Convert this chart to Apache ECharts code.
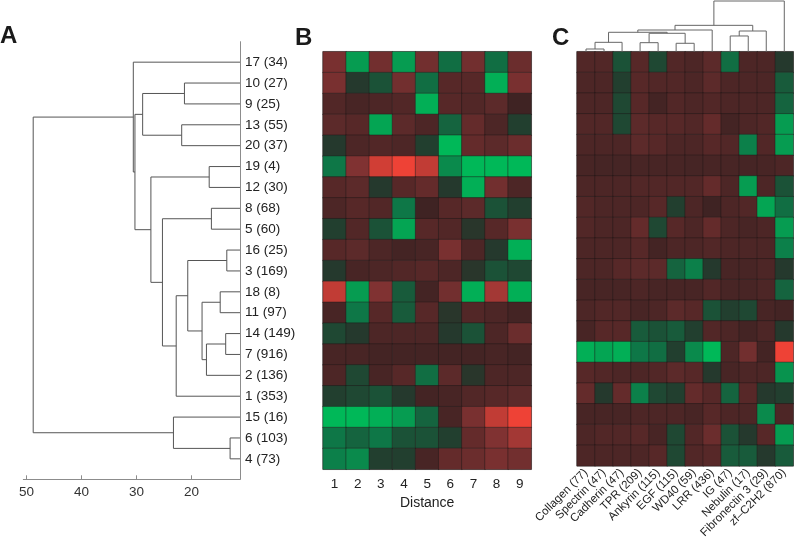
<!DOCTYPE html>
<html>
<head>
<meta charset="utf-8">
<script src="https://cdn.jsdelivr.net/npm/echarts@6/dist/echarts.min.js"></script>
<style>html,body{margin:0;padding:0;background:#fff}#c{width:794px;height:541px}</style>
</head>
<body>
<div id="c"></div>
<script>
// ---- Panel A: cluster dendrogram ----
const clusterLabels = ['17 (34)','10 (27)','9 (25)','13 (55)','20 (37)','19 (4)','12 (30)','8 (68)','5 (60)','16 (25)','3 (169)','18 (8)','11 (97)','14 (149)','7 (916)','2 (136)','1 (353)','15 (16)','6 (103)','4 (73)'];
// linkage: [childA, childB, height]; ids < 20 are leaves (row order), ids >= 20 are earlier merges
const clusterMerges = [
  [1,2,21.3],[3,4,21.8],[20,21,28.9],[5,6,16.8],[7,8,16.4],[9,10,13.6],[11,12,14.8],[13,14,13.8],
  [27,15,17.3],[26,28,18.1],[25,29,20.7],[30,16,22.8],[24,31,25.3],[23,32,27.4],[22,33,30.3],
  [0,34,30.6],[18,19,13.0],[17,36,23.3],[35,37,48.8]
];
const distanceTicks = [20,30,40,50];

// ---- Panel B: distance profile heatmap ----
const distanceLabels = ['1','2','3','4','5','6','7','8','9'];
const distanceValues = [
  [0.55,-0.85,0.5,-0.85,0.5,-0.6,0.5,-0.6,0.45],
  [0.55,-0.3,-0.45,0.5,-0.6,0.3,0.3,-0.95,0.55],
  [0.25,0.15,0.2,0.25,-0.95,0.3,0.25,0.35,0.05],
  [0.35,0.3,-0.9,0.35,0.2,-0.55,0.4,0.2,-0.35],
  [-0.3,0.2,0.25,0.2,-0.35,-1,0.4,0.35,0.45],
  [-0.65,0.6,0.9,1.0,0.85,-0.75,-1,-1,-1],
  [0.3,0.35,-0.3,0.3,0.4,-0.3,-0.95,0.5,0.2],
  [0.2,0.3,0.25,-0.65,0.05,0.3,0.35,-0.45,-0.35],
  [-0.35,0.25,-0.45,-0.9,0.3,0.25,-0.25,0.3,0.55],
  [0.3,0.35,0.2,0.1,0.15,0.55,0.2,-0.3,-0.95],
  [-0.3,0.15,0.2,0.25,0.3,0.2,-0.25,-0.45,-0.4],
  [0.85,-0.85,0.6,-0.5,0.1,0.5,-0.95,0.75,-0.95],
  [0.15,-0.65,0.3,-0.5,0.3,-0.25,0.25,0.2,0.1],
  [-0.4,-0.3,0.2,0.2,0.2,-0.3,-0.45,0.2,0.45],
  [0.15,0.15,0.1,0.1,0.1,0.1,0.1,0.15,0.1],
  [0.2,-0.4,0.15,0.3,-0.6,0.35,-0.25,0.2,0.2],
  [-0.35,-0.4,-0.45,-0.3,0.1,0.15,0.25,0.3,0.35],
  [-1,-1,-0.95,-0.85,-0.55,0.15,0.55,0.85,1.0],
  [-0.65,-0.55,-0.65,-0.45,-0.45,-0.35,0.4,0.6,0.75],
  [-0.7,-0.75,-0.35,-0.35,0.15,0.4,0.45,0.55,0.5]
];

// ---- Panel C: domain enrichment heatmap ----
const domainLabels = ['Collagen (77)','Spectrin (47)','Cadherin (47)','TPR (209)','Ankyrin (115)','EGF (115)','WD40 (59)','LRR (436)','IG (47)','Nebulin (17)','Fibronectin 3 (29)','zf–C2H2 (870)'];
const domainMerges = [
  [0,1,0.053],[12,2,0.185],[3,4,0.178],[5,6,0.166],[14,15,0.363],[13,16,0.383],[17,7,0.428],
  [8,9,0.31],[19,10,0.408],[18,20,0.52],[21,11,1.0]
];
const domainValues = [
  [0.25,0.25,-0.45,0.3,-0.4,0.25,0.2,0.35,-0.6,0.2,0.2,-0.3],
  [0.2,0.2,-0.35,0.3,0.25,0.25,0.2,0.35,0.2,0.2,0.2,-0.5],
  [0.2,0.2,-0.4,0.3,0.1,0.25,0.2,0.25,0.2,0.2,0.2,-0.55],
  [0.25,0.25,-0.4,0.35,0.3,0.3,0.25,0.4,0.1,0.2,0.25,-0.85],
  [0.2,0.2,0.2,0.35,0.3,0.2,0.2,0.3,0.25,-0.7,0.25,-0.85],
  [0.15,0.12,0.12,0.15,0.15,0.15,0.12,0.15,0.15,0.12,0.15,0.2],
  [0.2,0.2,0.2,0.25,0.25,0.25,0.25,0.4,0.2,-0.85,0.2,-0.45],
  [0.25,0.2,0.2,0.2,0.3,-0.35,0.2,0.05,0.2,0.25,-0.9,-0.6],
  [0.25,0.2,0.2,0.4,-0.4,0.3,0.2,0.4,0.2,0.15,0.2,-0.85],
  [0.2,0.2,0.2,0.3,0.1,0.2,0.2,0.25,0.2,0.2,0.2,-0.7],
  [0.2,0.2,0.3,0.35,0.35,-0.55,-0.7,-0.3,0.15,0.15,0.2,-0.3],
  [0.15,0.15,0.15,0.2,0.15,0.15,0.15,0.25,0.15,0.15,0.2,-0.55],
  [0.2,0.25,0.25,0.15,0.2,0.35,0.3,-0.45,-0.35,-0.4,0.15,0.1],
  [0.15,0.3,0.3,-0.5,-0.45,-0.5,-0.35,0.25,0.2,0.1,0.2,-0.3],
  [-0.95,-0.9,-0.95,-0.65,-0.6,-0.35,-0.75,-1.0,0.2,0.5,0.1,1.0],
  [0.3,0.25,0.2,0.2,0.25,0.35,0.3,-0.3,0.15,0.2,0.2,-0.8],
  [0.4,-0.3,0.4,-0.7,-0.4,-0.35,0.4,0.3,-0.55,0.3,-0.3,-0.35],
  [0.15,0.15,0.15,0.2,0.2,0.2,0.15,0.3,0.2,0.2,-0.75,0.2],
  [0.2,0.25,0.25,0.3,0.15,-0.4,0.25,0.45,-0.45,-0.3,0.3,-0.85],
  [0.2,0.2,0.2,0.2,0.3,-0.4,0.25,0.3,-0.5,-0.5,-0.3,-0.5]
];

// ---- build helpers ----
function dendroSegments(nLeaves, merges, leafHeight) {
  const pos = [], hts = [];
  for (let i = 0; i < nLeaves; i++) { pos.push(i); hts.push(leafHeight); }
  const segs = [];
  merges.forEach(([a, b, h]) => {
    segs.push([pos[a], hts[a], pos[b], hts[b], h]);
    pos.push((pos[a] + pos[b]) / 2); hts.push(h);
  });
  return segs;
}
function toCells(rows) {
  const out = [];
  rows.forEach((r, y) => r.forEach((v, x) => out.push([x, y, v])));
  return out;
}

const FONT = '"Liberation Sans", Arial, Helvetica, sans-serif';
const AX_MIN = 11.2, AX_MAX = 50.6;
const segA = dendroSegments(clusterLabels.length, clusterMerges, AX_MIN);
const segC = dendroSegments(domainLabels.length, domainMerges, 0);
const rowIdx = clusterLabels.map((_, i) => i);

const chart = echarts.init(document.getElementById('c'), null, {renderer: 'canvas'});
const HT = 51.7, HH = 417.6;
chart.setOption({
  animation: false,
  backgroundColor: '#fff',
  textStyle: {fontFamily: FONT},
  title: [
    {text: 'A', left: 0, top: 24, padding: 0, textStyle: {fontSize: 24, fontWeight: 'bold', color: '#1a1a1a', fontFamily: FONT}},
    {text: 'B', left: 295, top: 26, padding: 0, textStyle: {fontSize: 24, fontWeight: 'bold', color: '#1a1a1a', fontFamily: FONT}},
    {text: 'C', left: 552, top: 26, padding: 0, textStyle: {fontSize: 24, fontWeight: 'bold', color: '#1a1a1a', fontFamily: FONT}}
  ],
  grid: [
    {left: 23.3, top: 41.7, width: 216.7, height: 437.6, show: false},
    {left: 323, top: HT, width: 208.3, height: HH, show: true, borderColor: '#999', borderWidth: 1},
    {left: 577, top: HT, width: 216.3, height: HH, show: true, borderColor: '#999', borderWidth: 1},
    {left: 577, top: 1, width: 216.3, height: HT - 1, show: false}
  ],
  xAxis: [
    {gridIndex: 0, type: 'value', inverse: true, min: AX_MIN, max: AX_MAX,
     axisLine: {show: true, onZero: false, lineStyle: {color: '#8c8c8c', width: 1}},
     axisTick: {show: true, inside: true, length: 4, customValues: distanceTicks, lineStyle: {color: '#8c8c8c'}},
     axisLabel: {customValues: distanceTicks, color: '#333', fontSize: 13.5, margin: 6, fontFamily: FONT},
     splitLine: {show: false}},
    {gridIndex: 1, type: 'category', data: distanceLabels,
     axisLine: {show: false}, axisTick: {show: false},
     axisLabel: {color: '#222', fontSize: 13.5, margin: 8, fontFamily: FONT},
     name: 'Distance', nameLocation: 'middle', nameGap: 24,
     nameTextStyle: {color: '#222', fontSize: 14, fontFamily: FONT}},
    {gridIndex: 2, type: 'category', data: domainLabels,
     axisLine: {show: false}, axisTick: {show: false},
     axisLabel: {color: '#222', fontSize: 11.5, rotate: 45, interval: 0, margin: 5, fontFamily: FONT}},
    {gridIndex: 3, type: 'value', min: -0.5, max: domainLabels.length - 0.5, show: false}
  ],
  yAxis: [
    {gridIndex: 0, type: 'value', inverse: true, min: -0.98, max: clusterLabels.length - 0.02, position: 'right',
     axisLine: {show: true, onZero: false, lineStyle: {color: '#8c8c8c', width: 1}},
     axisTick: {show: false}, splitLine: {show: false},
     axisLabel: {customValues: rowIdx, formatter: v => clusterLabels[Math.round(v)], color: '#222', fontSize: 13.5, margin: 5, fontFamily: FONT}},
    {gridIndex: 1, type: 'category', inverse: true, data: clusterLabels, show: false},
    {gridIndex: 2, type: 'category', inverse: true, data: clusterLabels, show: false},
    {gridIndex: 3, type: 'value', min: 0, max: 1, show: false}
  ],
  visualMap: {
    show: false, type: 'continuous', min: -1, max: 1, seriesIndex: [1, 2], dimension: 2,
    inRange: {color: ['#00b858', '#0d7a48', '#233c2e', '#3a2222', '#5a2929', '#8a3434', '#ee4236']}
  },
  series: [
    {type: 'custom', xAxisIndex: 0, yAxisIndex: 0, data: segA, encode: {x: [1, 3, 4], y: [0, 2]}, clip: false,
     renderItem: (params, api) => {
       const ya = api.value(0), ha = api.value(1), yb = api.value(2), hb = api.value(3), h = api.value(4);
       return {type: 'polyline', shape: {points: [api.coord([ha, ya]), api.coord([h, ya]), api.coord([h, yb]), api.coord([hb, yb])]},
               style: {stroke: '#555', lineWidth: 1, fill: null}};
     }},
    {type: 'heatmap', xAxisIndex: 1, yAxisIndex: 1, data: toCells(distanceValues),
     itemStyle: {borderColor: 'rgba(30,25,25,0.45)', borderWidth: 1}, emphasis: {disabled: true}},
    {type: 'heatmap', xAxisIndex: 2, yAxisIndex: 2, data: toCells(domainValues),
     itemStyle: {borderColor: 'rgba(30,25,25,0.45)', borderWidth: 1}, emphasis: {disabled: true}},
    {type: 'custom', xAxisIndex: 3, yAxisIndex: 3, data: segC, encode: {x: [0, 2], y: [1, 3, 4]}, clip: false,
     renderItem: (params, api) => {
       const xa = api.value(0), ha = api.value(1), xb = api.value(2), hb = api.value(3), h = api.value(4);
       return {type: 'polyline', shape: {points: [api.coord([xa, ha]), api.coord([xa, h]), api.coord([xb, h]), api.coord([xb, hb])]},
               style: {stroke: '#666', lineWidth: 1, fill: null}};
     }}
  ]
});
</script>
</body>
</html>
